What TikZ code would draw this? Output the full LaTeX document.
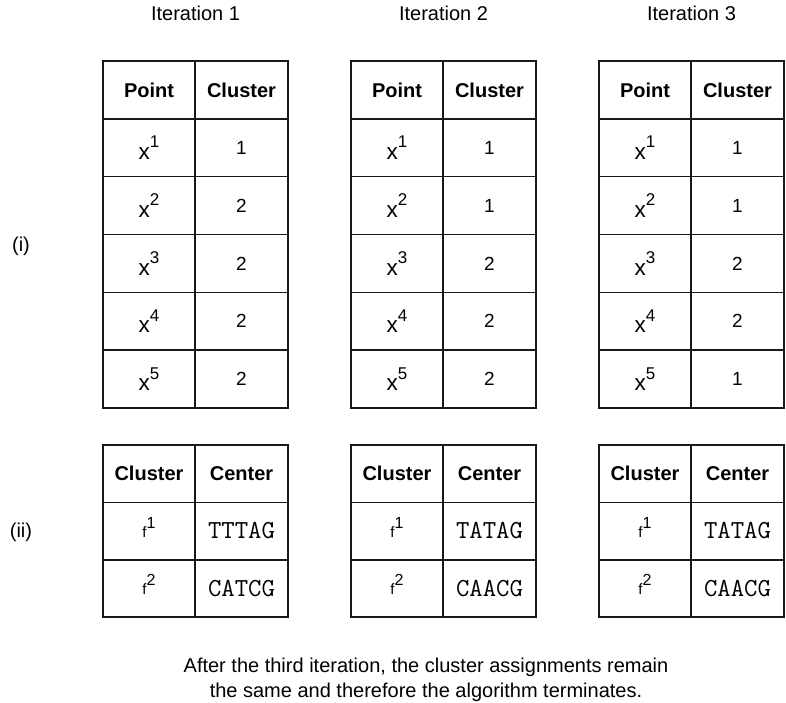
\documentclass[tikz,border=0pt]{standalone}
\usepackage{fontspec}
\setmainfont{Liberation Sans}
\usepackage{tikz}

\tikzset{
  rule/.style={line width=1.6pt, color=black!90},
  head/.style={font=\fontsize{20}{24}\selectfont\bfseries},
  entry/.style={font=\fontsize{19}{22}\selectfont},
  seq/.style={font=\fontsize{26}{30}\selectfont\ttfamily},
  plain/.style={font=\fontsize{20}{25}\selectfont},
}
\newcommand{\ptlabel}[1]{{\fontsize{22.5}{26}\selectfont x}\raisebox{11.5pt}{\fontsize{17}{20}\selectfont #1}}
\newcommand{\ctrlabel}[1]{{\fontsize{15}{18}\selectfont f}\raisebox{9pt}{\fontsize{16}{19}\selectfont #1}}

\begin{document}
\begin{tikzpicture}[x=1pt, y=-1pt]
    \useasboundingbox (0, 0) rectangle (786, 703);

    \node [plain] (part1) at (21, 246) {(i)};
    \node [plain] (part2) at (21, 532) {(ii)};

    \foreach \ox/\k/\a/\b/\c/\d/\e/\sa/\sb in {103/1/1/2/2/2/2/TTTAG/CATCG, 351/2/1/1/2/2/2/TATAG/CAACG, 599/3/1/1/2/2/1/TATAG/CAACG} {
      \node [plain, anchor=base] (iter\k) at (\ox+92.5, 20.7) {Iteration \k};

      % assignment table
      \draw [rule] (\ox, 61) rectangle (\ox+185, 408);
      \draw [rule] (\ox+92, 61) to (\ox+92, 408);
      \foreach \y in {118.8, 176.7, 234.5, 292.3, 350.2}
        \draw [rule] (\ox, \y) to (\ox+185, \y);
      \node [head] (pthead\k) at (\ox+46, 90) {Point};
      \node [head] (clhead\k) at (\ox+138.5, 90) {Cluster};
      \foreach \v [count=\n] in {\a, \b, \c, \d, \e} {
        \node [entry] (pt\k-\n) at (\ox+46, 90+57.83*\n) {\ptlabel{\n}};
        \node [entry] (cl\k-\n) at (\ox+138.5, 90+57.83*\n) {\v};
      }

      % center table
      \draw [rule] (\ox, 445) rectangle (\ox+185, 617);
      \draw [rule] (\ox+92, 445) to (\ox+92, 617);
      \draw [rule] (\ox, 502.3) to (\ox+185, 502.3);
      \draw [rule] (\ox, 559.7) to (\ox+185, 559.7);
      \node [head] (cthead\k) at (\ox+46, 473.7) {Cluster};
      \node [head] (cnhead\k) at (\ox+138.5, 473.7) {Center};
      \node [entry] (ct\k-1) at (\ox+46, 527) {\ctrlabel{1}};
      \node [entry] (ct\k-2) at (\ox+46, 584.3) {\ctrlabel{2}};
      \node [seq] (cn\k-1) at (\ox+138.5, 531) {\sa};
      \node [seq] (cn\k-2) at (\ox+138.5, 588.3) {\sb};
    }

    \node [plain, anchor=base] (note1) at (426, 672) {After the third iteration, the cluster assignments remain};
    \node [plain, anchor=base] (note2) at (426, 697) {the same and therefore the algorithm terminates.};

  \end{tikzpicture}
\end{document}
